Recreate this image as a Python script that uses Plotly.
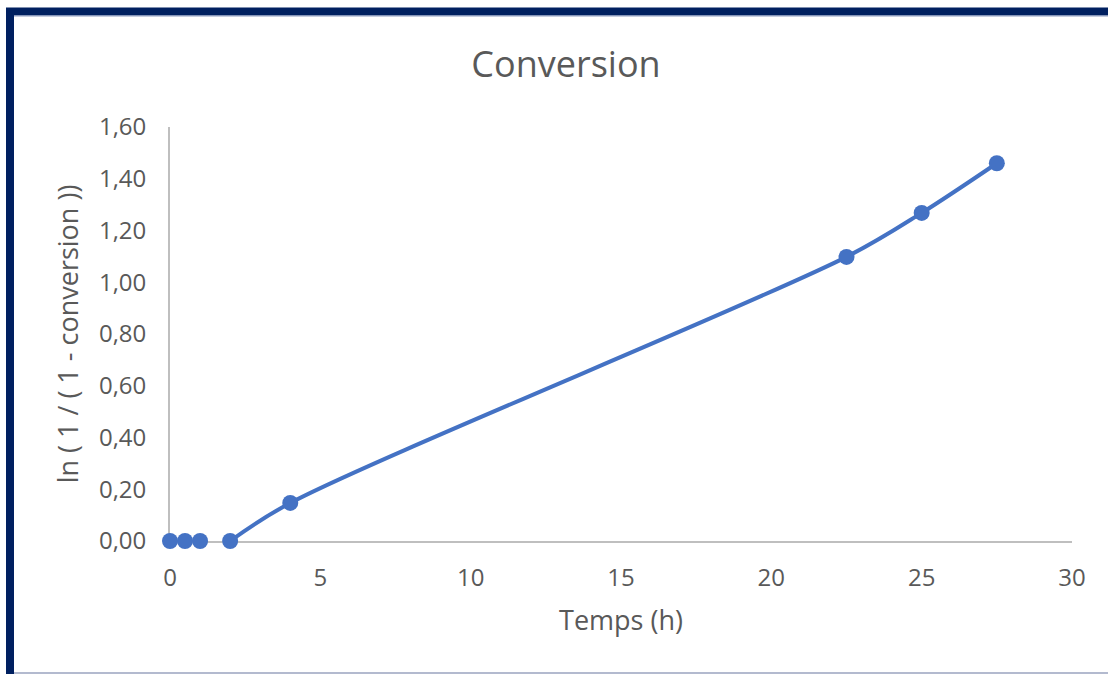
import plotly.graph_objects as go

# Data
temps_h = [0, 0.5, 1, 2, 4, 22.5, 25, 27.5]
ln_conv = [0.0, 0.0, 0.0, 0.0, 0.147, 1.098, 1.268, 1.46]
line_start = 3  # smoothed line drawn from the 4th point onward

x_ticks = [0, 5, 10, 15, 20, 25, 30]
y_ticks = [0, 0.2, 0.4, 0.6, 0.8, 1.0, 1.2, 1.4, 1.6]

W, H = 1108, 674
ML, MR, MT, MB = 170, 36, 127, 133
PW, PH = W - ML - MR, H - MT - MB

def px(xp):
    return (xp - ML) / PW

def py(yp):
    return (H - MB - yp) / PH

BLUE = "#4472C4"
TXT = "#595959"
AX = "#BFBFBF"
FONT = "Open Sans"

fig = go.Figure()
fig.add_trace(go.Scatter(
    x=temps_h[line_start:], y=ln_conv[line_start:], mode="lines",
    line=dict(color=BLUE, width=4, shape="spline", smoothing=0.9),
    showlegend=False, hoverinfo="skip", cliponaxis=False))
fig.add_trace(go.Scatter(
    x=temps_h, y=ln_conv, mode="markers",
    marker=dict(color=BLUE, size=16, line=dict(width=0)),
    showlegend=False, cliponaxis=False))

fig.update_layout(
    width=W, height=H,
    margin=dict(l=ML, r=MR, t=MT, b=MB),
    paper_bgcolor="white", plot_bgcolor="white",
    separators=", ",
    font=dict(family=FONT, color=TXT),
    title=dict(text="Conversion", x=566 / W, xanchor="center",
               y=1 - 64 / H, yanchor="middle", xref="container",
               font=dict(size=36, color=TXT, family=FONT)),
    xaxis=dict(range=[0, 30], tickvals=x_ticks, showgrid=False, zeroline=False,
               showline=True, linecolor=AX, linewidth=1.8, ticks="",
               tickfont=dict(size=24, color=TXT), ticklabelstandoff=14,
               title=dict(text="Temps (h)", font=dict(size=27, color=TXT), standoff=19),
               automargin=False, layer="below traces"),
    yaxis=dict(range=[0, 1.6], tickvals=y_ticks, tickformat=".2f", showgrid=False,
               zeroline=False, showline=True, linecolor=AX, linewidth=1.8, ticks="",
               tickfont=dict(size=24, color=TXT), ticklabelstandoff=17,
               title=dict(text="ln ( 1 / ( 1 - conversion ))", font=dict(size=27, color=TXT), standoff=12),
               automargin=False, layer="below traces"),
    shapes=[
        dict(type="rect", xref="paper", yref="paper",
             x0=px(10), x1=px(1130), y0=py(11.5), y1=py(720),
             line=dict(color="#002060", width=8), fillcolor="rgba(0,0,0,0)", layer="above"),
        dict(type="line", xref="paper", yref="paper",
             x0=px(14), x1=px(1108), y0=py(16), y1=py(16),
             line=dict(color="#8C9AC0", width=1)),
        dict(type="line", xref="paper", yref="paper",
             x0=px(14), x1=px(1108), y0=py(673), y1=py(673),
             line=dict(color="#9AA3BF", width=1.5)),
    ],
)

fig.write_html("out.html")
